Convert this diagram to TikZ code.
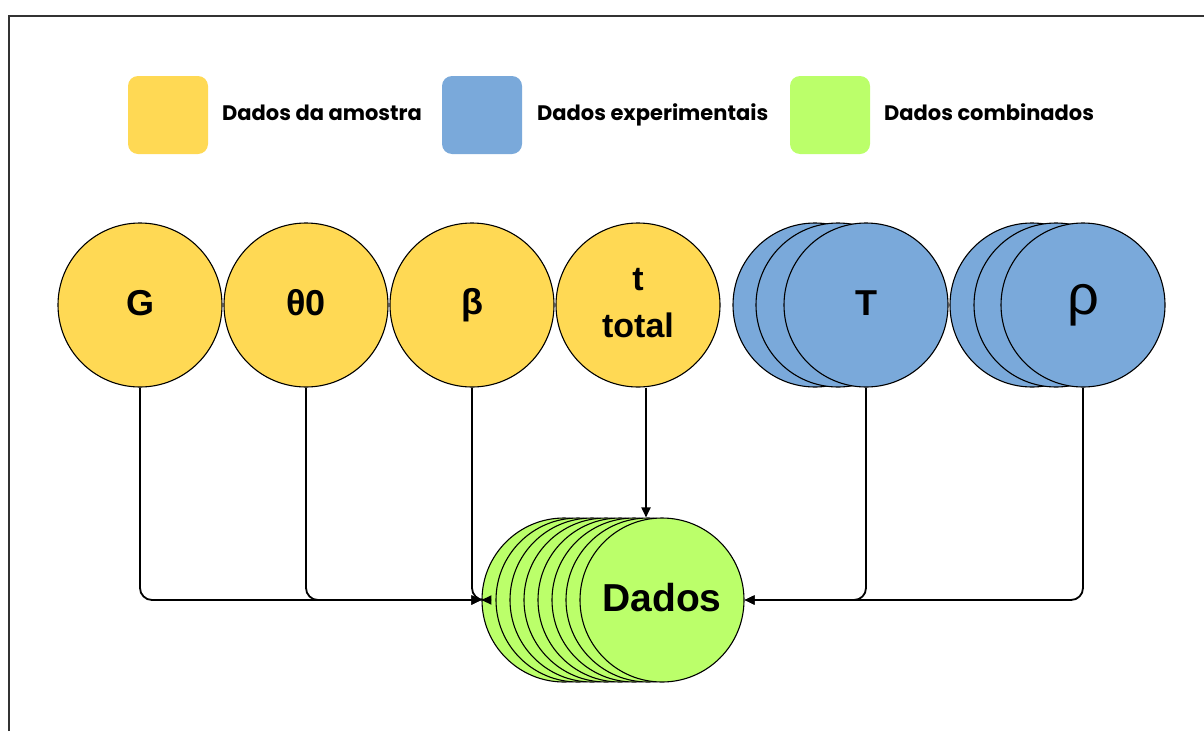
\documentclass[tikz,border=0pt]{standalone}
\usepackage{fontspec}
\setmainfont{Liberation Sans}
\newfontfamily\legfont{Poppins}
\usetikzlibrary{arrows.meta}
\definecolor{cyel}{HTML}{FFD954}
\definecolor{cblue}{HTML}{7AA9DA}
\definecolor{cgreen}{HTML}{BBFF6A}
\newcommand{\up}[1]{\raisebox{4.5pt}{#1}}
\begin{document}
\begin{tikzpicture}[x=1pt,y=-1pt,
  circ/.style={circle, draw=black, line width=1.1pt, minimum size=164pt, inner sep=0pt, align=center},
  ycirc/.style={circ, fill=cyel},
  bcirc/.style={circ, fill=cblue},
  gcirc/.style={circ, fill=cgreen},
  legbox/.style={rounded corners=10pt, minimum width=80pt, minimum height=78pt, inner sep=0pt},
  legtext/.style={font=\legfont\bfseries\fontsize{21}{25}\selectfont, inner sep=0pt, anchor=base west},
  big/.style={font=\bfseries\fontsize{36}{40}\selectfont},
  arr/.style={line width=1.8pt, rounded corners=12pt, -{Triangle[length=10pt,width=9pt]}}
]
\useasboundingbox (0,0) rectangle (1204,731);
\draw[line width=2pt, black!80] (8.5,731) -- (8.5,15.5) -- (1204,15.5);

% legend
\node[legbox, fill=cyel] (ly) at (168,115) {};
\node[legtext] (lyt) at (222,120) {Dados da amostra};
\node[legbox, fill=cblue] (lb) at (482,115) {};
\node[legtext] (lbt) at (537,120) {Dados experimentais};
\node[legbox, fill=cgreen] (lg) at (830,115) {};
\node[legtext] (lgt) at (884,120) {Dados combinados};

% sample data
\node[ycirc, big] (G) at (140,305) {\up{G}};
\node[ycirc, big] (th) at (306,305) {\up{θ0}};
\node[ycirc, big] (b) at (472,305) {\raisebox{3.5pt}{β}};
\node[ycirc, font=\bfseries\fontsize{34}{47}\selectfont] (tt) at (638,305) {\raisebox{4pt}{\begin{tabular}{@{}c@{}}t\\total\end{tabular}}};

% experimental data
\node[bcirc] (T3) at (815,305) {};
\node[bcirc] (T2) at (838,305) {};
\node[bcirc, big] (T) at (866,305) {\up{T}};
\node[bcirc] (r3) at (1032,305) {};
\node[bcirc] (r2) at (1056,305) {};
\node[bcirc, font=\fontsize{56}{60}\selectfont] (rho) at (1083,305) {\raisebox{4pt}{ρ}};

% combined data
\foreach \k in {0,...,6} {
  \node[gcirc] (D\k) at ({564+14*\k},600) {};
}
\node[gcirc, font=\bfseries\fontsize{39}{44}\selectfont] (D) at (662,600) {\up{Dados}};

% connectors
\draw[arr] (G.south) |- (D0.west);
\draw[arr] (th.south) |- (D0.west);
\draw[arr] (b.south) |- (D0.west);
\draw[arr] ([xshift=8pt]tt.south) -- ([xshift=8pt]tt.south |- D.north);
\draw[arr] (T.south) |- (D.east);
\draw[arr] (rho.south) |- (D.east);
\end{tikzpicture}
\end{document}
